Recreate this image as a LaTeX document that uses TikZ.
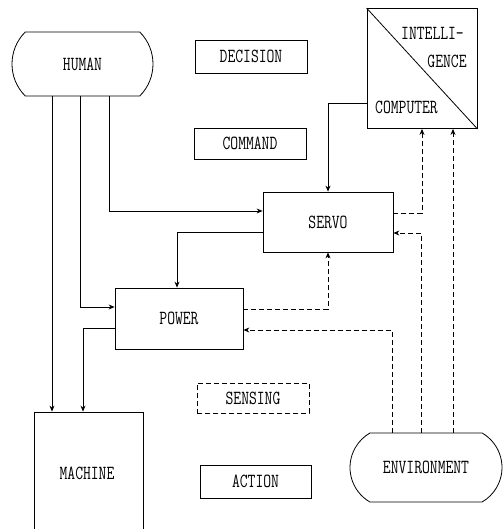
\documentclass[tikz,border=0pt]{standalone}
\usetikzlibrary{shapes.misc,arrows.meta}
\newcommand{\lbl}[1]{\scalebox{0.76}[1]{\fontsize{20}{22}\selectfont\ttfamily #1}}
\begin{document}
\begin{tikzpicture}[x=1pt,y=-1pt,
  lw/.style={line width=0.8pt},
  box/.style={draw,lw,rectangle,inner sep=0pt},
  stad/.style={draw,lw,rounded rectangle,inner sep=0pt},
  dsh/.style={dash pattern=on 5pt off 3pt},
  arr/.style={lw,-{Stealth[length=6pt,width=5pt]}}
]
\useasboundingbox (0,0) rectangle (503,529);
\clip (0,0) rectangle (503,529);

\node[stad, rounded rectangle arc length=90, minimum width=141pt, minimum height=64pt] (human) at (82.5,64) {\lbl{HUMAN}};
\node[box, minimum width=112pt, minimum height=33pt] (decision) at (251,56.5) {\lbl{DECISION}};
\node[box, minimum width=112pt, minimum height=31pt] (command) at (250,143.5) {\lbl{COMMAND}};
\node[box, minimum width=110pt, minimum height=120pt] (comp) at (422,68.5) {};
\draw[lw] (comp.north west) -- (comp.south east);
\node (intel) at (432.5,33) {\lbl{INTELLI-}};
\node (gence) at (447,61) {\lbl{GENCE}};
\node (computer) at (406.5,107.5) {\lbl{COMPUTER}};
\node[box, minimum width=130pt, minimum height=60pt] (servo) at (328,222) {\lbl{SERVO}};
\node[box, minimum width=128pt, minimum height=61pt] (power) at (179,318.5) {\lbl{POWER}};
\node[box, dsh, minimum width=112pt, minimum height=30pt] (sensing) at (253,398) {\lbl{SENSING}};
\node[box, minimum width=111pt, minimum height=33pt] (action) at (255.5,481.5) {\lbl{ACTION}};
\node[box, minimum width=109pt, minimum height=140pt] (machine) at (88.5,482) {};
\node (machinetext) at (87,473) {\lbl{MACHINE}};
\node[stad, rounded rectangle arc length=120, minimum width=152pt, minimum height=69pt] (env) at (426,467.5) {\lbl{ENVIRONMENT}};

\draw[arr] ([xshift=-30.5pt]human.south) -- ([xshift=-36.5pt]machine.north);
\draw[arr] ([xshift=-2.5pt]human.south) |- ([yshift=11.5pt]power.west);
\draw[arr] ([xshift=26.5pt]human.south) |- ([yshift=11pt]servo.west);
\draw[arr] ([yshift=-34.5pt]comp.west) -| (servo.north);
\draw[arr] ([yshift=-10pt]servo.west) -| ([xshift=-2pt]power.north);
\draw[arr] ([yshift=-9.5pt]power.west) -| ([xshift=-5.5pt]machine.north);
\draw[arr,dsh] ([yshift=9.5pt]power.east) -| (servo.south);
\draw[arr,dsh] ([yshift=9pt]servo.east) -| (comp.south);
\draw[arr,dsh] ([xshift=-4.5pt]env.north) |- ([yshift=-11pt]servo.east);
\draw[arr,dsh] ([xshift=-34pt]env.north) |- ([yshift=-11.5pt]power.east);
\draw[arr,dsh] ([xshift=27pt]env.north) -- ([xshift=31pt]comp.south);
\end{tikzpicture}
\end{document}
